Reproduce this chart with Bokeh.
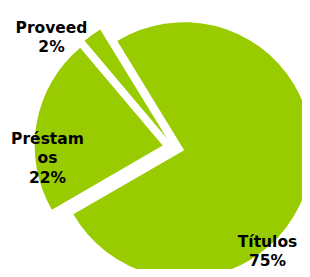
import numpy as np
from bokeh.plotting import figure
from bokeh.models import Range1d, ColumnDataSource
from bokeh.core.properties import value
from bokeh.embed import file_html
from bokeh.resources import INLINE

# ---- data ----
categories = ["Títulos", "Préstamos", "Proveed"]
shares = [75.4, 22.2, 2.4]            # slice sizes (percent)
pct_labels = ["75%", "22%", "2%"]      # printed percentages
label_lines = [["Títulos"], ["Préstam", "os"], ["Proveed"]]

# ---- layout (reference pixel frame 310x277) ----
W, H = 302, 269
X0, Y0 = 0, 0
REF_H = 277
cx, cy_scr = 173.0, 147.0  # pie centre (screen px)
R = 128.0
EXPLODE = 11.0
START_DEG = 121.5        # first slice starts here, slices run clockwise
GREEN = "#99CC00"
FONT = value("DejaVu Sans")
FSIZE = "15.5px"
LINE_H = 19.5
# label anchor: centre x, first baseline y (screen px)
label_anchor = [(267, 241), (47, 138), (51, 27)]

def ydata(y_scr):
    return REF_H - y_scr

p = figure(width=W, height=H, output_backend="svg", toolbar_location=None,
           x_range=Range1d(X0, X0 + W), y_range=Range1d(REF_H - Y0 - H, REF_H - Y0),
           min_border=0)
p.axis.visible = False
p.grid.visible = False
p.outline_line_color = None
p.background_fill_color = "white"
p.border_fill_color = "white"

tot = float(sum(shares))
sweeps = np.array(shares) / tot * 2 * np.pi
starts = np.radians(START_DEG) - np.concatenate([[0], np.cumsum(sweeps)[:-1]])
ends = starts - sweeps
mids = (starts + ends) / 2
xs = cx + EXPLODE * np.cos(mids)
ys = ydata(cy_scr) + EXPLODE * np.sin(mids)

src = ColumnDataSource(dict(x=xs, y=ys, sa=ends, ea=starts, name=categories))
p.wedge(x="x", y="y", radius=R, start_angle="sa", end_angle="ea",
        direction="anticlock", fill_color=GREEN, line_color=None, source=src)

tx, ty, tt = [], [], []
for lines, pct, (ax, ay) in zip(label_lines, pct_labels, label_anchor):
    for i, t in enumerate(lines + [pct]):
        tx.append(ax)
        ty.append(ydata(ay + i * LINE_H))
        tt.append(t)
p.text(x=tx, y=ty, text=tt, text_align="center", text_baseline="alphabetic",
       text_font=FONT, text_font_style="bold", text_font_size=FSIZE,
       text_color="black")

open("out.html", "w").write(file_html(p, INLINE))
